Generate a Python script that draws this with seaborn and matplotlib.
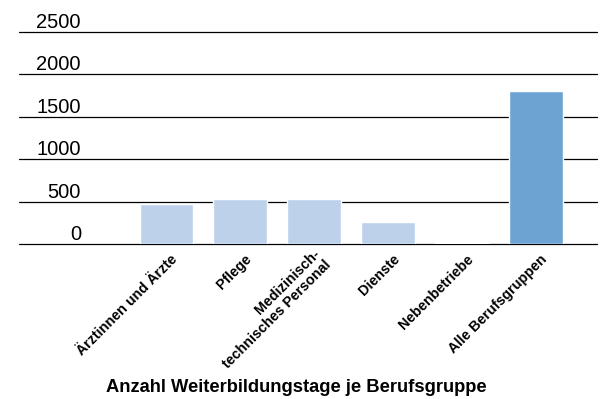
import matplotlib
matplotlib.use("Agg")
import matplotlib.pyplot as plt
import matplotlib.transforms as mtransforms
import seaborn as sns
import pandas as pd

categories = [
    "Ärztinnen und Ärzte",
    "Pflege",
    "Medizinisch-\ntechnisches Personal",
    "Dienste",
    "Nebenbetriebe",
    "Alle Berufsgruppen",
]
tage = [473, 532, 532, 265, 20, 1800]
gruppe = ["einzeln", "einzeln", "einzeln", "einzeln", "einzeln", "gesamt"]
y_ticks = [0, 500, 1000, 1500, 2000, 2500]
title = "Anzahl Weiterbildungstage je Berufsgruppe"

df = pd.DataFrame({"Berufsgruppe": categories, "Tage": tage, "Gruppe": gruppe})

sns.set_style("white")
plt.rcParams["font.family"] = ["Liberation Sans", "DejaVu Sans"]
plt.rcParams["text.color"] = "black"
plt.rcParams["xtick.color"] = "black"
plt.rcParams["ytick.color"] = "black"

W, H = 603, 399
fig = plt.figure(figsize=(W / 100, H / 100), dpi=100)
ax = fig.add_axes([19.3 / W, 1 - 244.3 / H, (597.3 - 19.3) / W, (244.3 - 31.7) / H])

sns.barplot(
    data=df, x="Berufsgruppe", y="Tage", hue="Gruppe",
    palette={"einzeln": "#BDD1EA", "gesamt": "#6CA3D2"},
    dodge=False, width=0.73, legend=False, ax=ax, saturation=1,
)

ax.set_xlim(-1.992, 5.83)
ax.set_ylim(0, 2500)
for s in ax.spines.values():
    s.set_visible(False)

# horizontal rules at each tick, drawn behind the bars
ax.set_yticks(y_ticks)
ax.yaxis.grid(True, color="black", linewidth=0.9)
ax.set_axisbelow(True)
for gl in ax.yaxis.get_gridlines():
    gl.set_clip_on(False)

# value labels sit just above their rule, right-aligned inside the plot area
ax.set_yticklabels([str(v) for v in y_ticks])
ax.tick_params(axis="y", length=0, pad=-44.4, labelsize=14.5)
up = mtransforms.ScaledTranslation(0, 4 / 100, fig.dpi_scale_trans)
for lbl in ax.get_yticklabels():
    lbl.set_verticalalignment("baseline")
    lbl.set_horizontalalignment("right")
    lbl.set_transform(lbl.get_transform() + up)

# rotated category names
ax.tick_params(axis="x", length=0, pad=9)
ax.set_xticks(range(len(categories)))
ax.set_xticklabels(categories, rotation=45, ha="right", va="center",
                   rotation_mode="anchor", fontsize=10.3, fontweight="bold",
                   multialignment="right", linespacing=1.1)
shift = mtransforms.ScaledTranslation(9 / 100, 0, fig.dpi_scale_trans)
for lbl in ax.get_xticklabels():
    lbl.set_transform(lbl.get_transform() + shift)

ax.set_xlabel("")
ax.set_ylabel("")

fig.text(296 / W, 1 - 392 / H, title, ha="center", va="baseline",
         fontsize=13.2, fontweight="bold")

fig.savefig("out.png", dpi=100)
